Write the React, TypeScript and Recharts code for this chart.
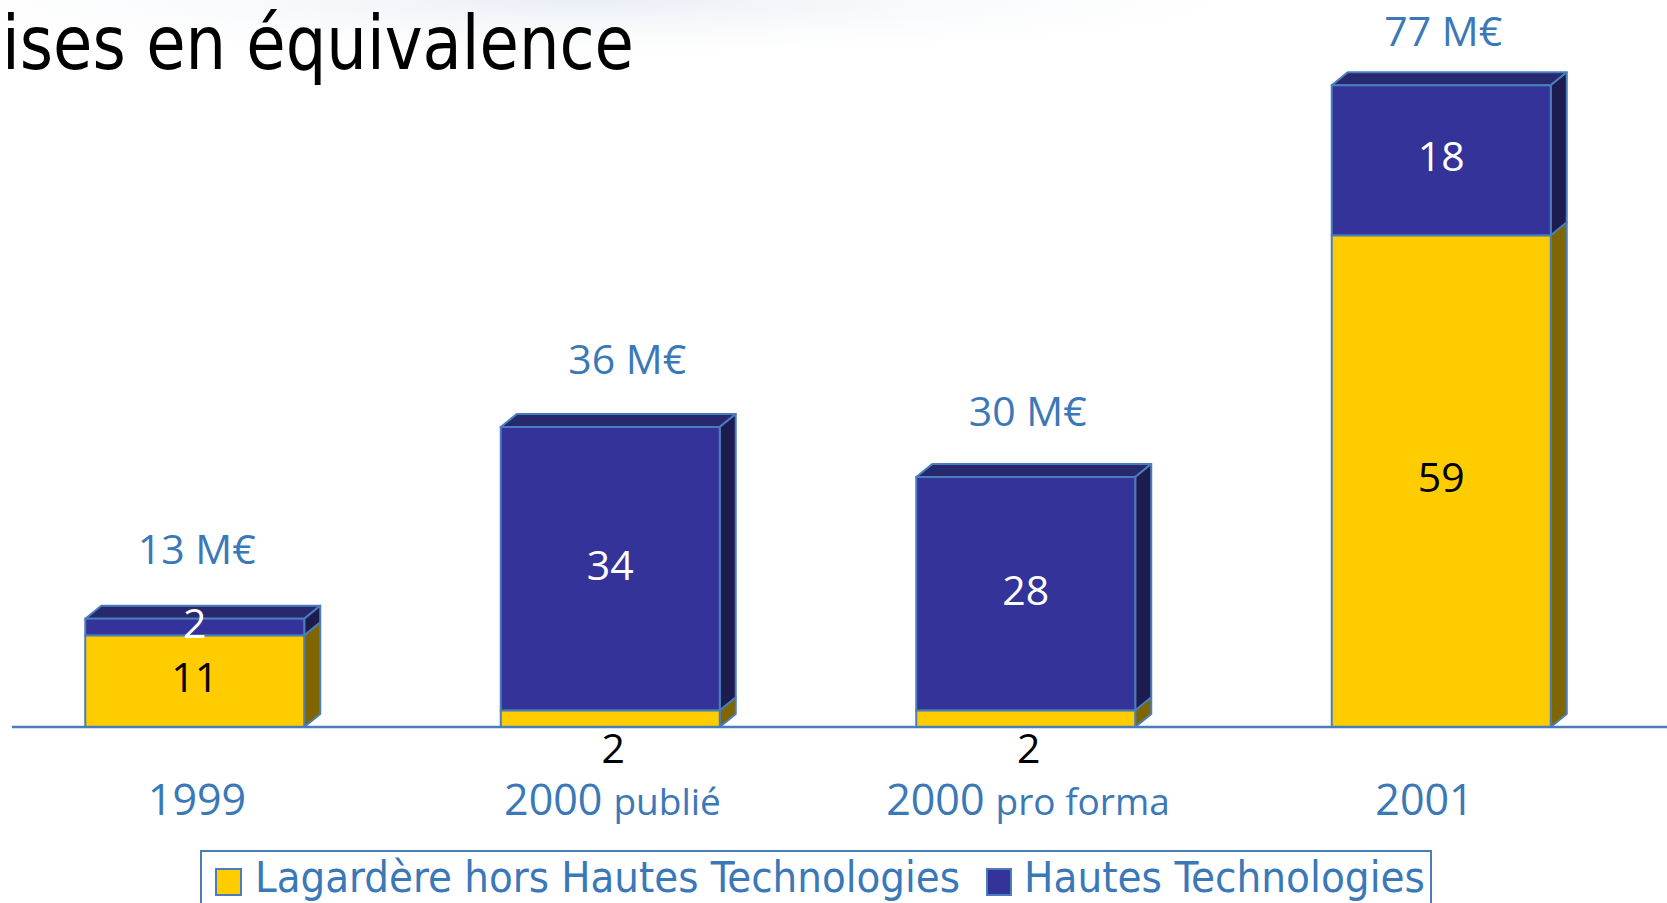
import React from 'react';
import { BarChart, Bar, XAxis, YAxis, LabelList, Legend } from 'recharts';

// ---- data ----
const categories = ['1999', '2000 publié', '2000 pro forma', '2001'];
const lagardereHorsHT = [11, 2, 2, 59];
const hautesTechnologies = [2, 34, 28, 18];
const seriesNames = ['Lagardère hors Hautes Technologies', 'Hautes Technologies'];
const unitSuffix = ' M€';
const titleText = 'ises en équivalence';

const data = categories.map((name, i) => ({
  name,
  lag: lagardereHorsHT[i],
  ht: hautesTechnologies[i],
  total: lagardereHorsHT[i] + hautesTechnologies[i],
}));

// ---- style ----
const W = 1667;
const H = 903;
const DX = 16;
const DY = 13;
const EDGE = '#4a7ebb';
const YELLOW = '#FFCC00';
const YELLOW_SIDE = '#806600';
const NAVY = '#333399';
const NAVY_TOP = '#28286f';
const NAVY_SIDE = '#1c1c4e';
const TXT_BLUE = '#3b78b8';
const NUM_FONT = "'Open Sans', 'Noto Sans', sans-serif";
const COND_FONT = "'DejaVu Sans Condensed', 'DejaVu Sans', sans-serif";
// hand-placed total labels in the original slide: lift above bar front top, and x nudge
const TOTAL_LIFT = [55, 53, 51, 39];
const TOTAL_NUDGE = [2, 17, 2, 2];

const YellowShape = (p: any) => {
  const { x, y, width: w, height: h } = p;
  if (!w || !h) return <g />;
  return (
    <g>
      <polygon
        points={`${x + w},${y} ${x + w + DX},${y - DY} ${x + w + DX},${y + h - DY} ${x + w},${y + h}`}
        fill={YELLOW_SIDE}
        stroke={EDGE}
        strokeWidth={2}
        strokeLinejoin="round"
      />
      <rect x={x} y={y} width={w} height={h} fill={YELLOW} stroke={EDGE} strokeWidth={2} />
    </g>
  );
};

const NavyShape = (p: any) => {
  const { x, y, width: w, height: h } = p;
  if (!w || !h) return <g />;
  return (
    <g>
      <polygon
        points={`${x},${y} ${x + DX},${y - DY} ${x + w + DX},${y - DY} ${x + w},${y}`}
        fill={NAVY_TOP}
        stroke={EDGE}
        strokeWidth={2}
        strokeLinejoin="round"
      />
      <polygon
        points={`${x + w},${y} ${x + w + DX},${y - DY} ${x + w + DX},${y + h - DY} ${x + w},${y + h}`}
        fill={NAVY_SIDE}
        stroke={EDGE}
        strokeWidth={2}
        strokeLinejoin="round"
      />
      <rect x={x} y={y} width={w} height={h} fill={NAVY} stroke={EDGE} strokeWidth={2} />
    </g>
  );
};

const YellowLabel = (p: any) => {
  const { x, y, width, height, value } = p;
  const cx = x + width / 2;
  const below = height < 30;
  const ty = below ? y + height + 36 : y + height / 2 + 11;
  return (
    <text x={cx + (below ? 3 : 0)} y={ty} textAnchor="middle" fill="#000" fontFamily={NUM_FONT} fontSize={41} fontWeight={500}>
      {value}
    </text>
  );
};

const NavyLabel = (p: any) => {
  const { x, y, width, height, value } = p;
  return (
    <text x={x + width / 2} y={y + height / 2 + 11} textAnchor="middle" fill="#fff" fontFamily={NUM_FONT} fontSize={41} fontWeight={500}>
      {value}
    </text>
  );
};

const TotalLabel = (p: any) => {
  const { x, y, width, index } = p;
  const total = data[index].total;
  return (
    <text x={x + width / 2 + TOTAL_NUDGE[index]} y={y - TOTAL_LIFT[index]} textAnchor="middle" fill={TXT_BLUE} fontFamily={NUM_FONT} fontSize={41} fontWeight={500}>
      {total + unitSuffix}
    </text>
  );
};

const CategoryTick = (p: any) => {
  const { x, y, payload, index } = p;
  const label: string = payload.value;
  const sp = label.indexOf(' ');
  const year = sp < 0 ? label : label.slice(0, sp);
  const rest = sp < 0 ? '' : label.slice(sp + 1);
  return (
    <text x={x + (index === 3 ? -17 : 2)} y={y + 88} textAnchor="middle" fill={TXT_BLUE} fontFamily={NUM_FONT} fontSize={43} fontWeight={500}>
      <tspan>{year}</tspan>
      {rest ? <tspan dx={11} fontSize={37}>{rest}</tspan> : null}
    </text>
  );
};

const LegendContent = () => (
  <svg width={1232} height={53} style={{ display: 'block' }}>
    <path d="M1,53 V1 H1231 V53" fill="none" stroke={EDGE} strokeWidth={2} />
    <rect x={16} y={19} width={25} height={26} fill={YELLOW} stroke={EDGE} strokeWidth={2} />
    <text x={55} y={42} fill={TXT_BLUE} fontFamily={COND_FONT} fontSize={43} textLength={705} lengthAdjust="spacingAndGlyphs">
      {seriesNames[0]}
    </text>
    <rect x={787} y={19} width={24} height={26} fill={NAVY} stroke={EDGE} strokeWidth={2} />
    <text x={824} y={42} fill={TXT_BLUE} fontFamily={COND_FONT} fontSize={43} textLength={401} lengthAdjust="spacingAndGlyphs">
      {seriesNames[1]}
    </text>
  </svg>
);

export default function App() {
  return (
    <div style={{ position: 'absolute', left: 0, top: 0, width: W, height: H, overflow: 'hidden', background: '#fff' }}>
      <svg width={W} height={120} style={{ position: 'absolute', left: 0, top: 0 }}>
        <defs>
          <radialGradient id="haze" cx="0.45" cy="0" r="0.6">
            <stop offset="0" stopColor="#dfe6f0" stopOpacity={0.7} />
            <stop offset="1" stopColor="#ffffff" stopOpacity={0} />
          </radialGradient>
        </defs>
        <rect x={0} y={0} width={1300} height={110} fill="url(#haze)" />
        <text x={2} y={69} fill="#000" fontFamily={COND_FONT} fontSize={74} textLength={632} lengthAdjust="spacingAndGlyphs">
          {titleText}
        </text>
      </svg>
      <BarChart
        width={W}
        height={H}
        data={data}
        margin={{ top: 27, right: 0, bottom: 116, left: 12 }}
        barSize={219}
        style={{ position: 'absolute', left: 0, top: 0 }}
      >
        <YAxis hide domain={[0, 84]} />
        <XAxis
          dataKey="name"
          height={60}
          padding={{ left: -24.75, right: 17.75 }}
          axisLine={{ stroke: EDGE, strokeWidth: 2.5 }}
          tickLine={false}
          tickSize={0}
          tickMargin={0}
          interval={0}
          tick={<CategoryTick />}
        />
        <Legend
          layout="vertical"
          align="center"
          verticalAlign="middle"
          content={<LegendContent />}
          wrapperStyle={{ position: 'absolute', left: 200, top: 850, width: 1232, height: 53 }}
        />
        <Bar dataKey="lag" name={seriesNames[0]} stackId="a" fill={YELLOW} shape={<YellowShape />} isAnimationActive={false}>
          <LabelList dataKey="lag" content={<YellowLabel />} />
        </Bar>
        <Bar dataKey="ht" name={seriesNames[1]} stackId="a" fill={NAVY} shape={<NavyShape />} isAnimationActive={false}>
          <LabelList dataKey="ht" content={<NavyLabel />} />
          <LabelList dataKey="total" content={<TotalLabel />} />
        </Bar>
      </BarChart>
    </div>
  );
}
